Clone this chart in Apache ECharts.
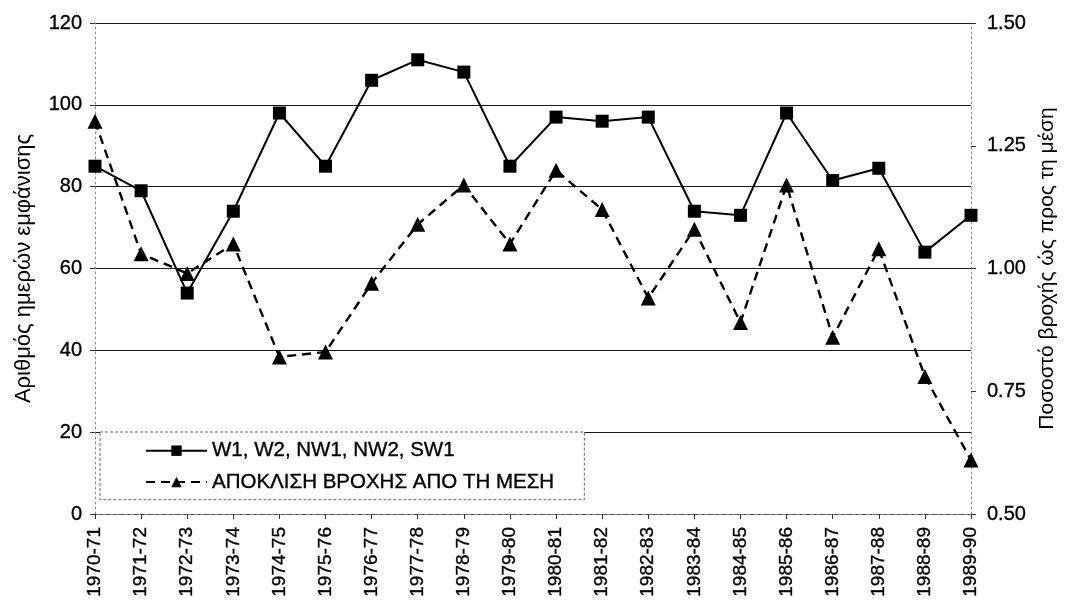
<!DOCTYPE html>
<html>
<head>
<meta charset="utf-8">
<title>Αριθμός ημερών εμφάνισης και απόκλιση βροχής</title>
<script src="https://cdn.jsdelivr.net/npm/echarts@6/dist/echarts.min.js"></script>
<style>
  html, body { margin: 0; padding: 0; background: #fff; }
  #chart { width: 1066px; height: 601px; }
</style>
</head>
<body>
<div id="chart"></div>
<script>
// Hydrological years
const years = [
  '1970-71', '1971-72', '1972-73', '1973-74', '1974-75', '1975-76', '1976-77',
  '1977-78', '1978-79', '1979-80', '1980-81', '1981-82', '1982-83', '1983-84',
  '1984-85', '1985-86', '1986-87', '1987-88', '1988-89', '1989-90'
];

// Days of occurrence of W1, W2, NW1, NW2, SW1 types (left axis)
const daysCount = [85, 79, 54, 74, 98, 85, 106, 111, 108, 85, 97, 96, 97, 74, 73, 98, 81.5, 84.5, 64, 73];

// Rainfall as a ratio of the mean (right axis)
const rainRatio = [1.30, 1.03, 0.99, 1.05, 0.82, 0.83, 0.97, 1.09, 1.17, 1.05, 1.20, 1.12, 0.94, 1.08, 0.89, 1.17, 0.86, 1.04, 0.78, 0.61];

const seriesNames = ['W1, W2, NW1, NW2, SW1', 'ΑΠΟΚΛΙΣΗ ΒΡΟΧΗΣ ΑΠΟ ΤΗ ΜΕΣΗ'];
const leftAxisName = 'Αριθμός ημερών εμφάνισης';
const rightAxisName = 'Ποσοστό βροχής ώς προς τη μέση';

const FONT = '"Liberation Sans", Arial, sans-serif';
const chart = echarts.init(document.getElementById('chart'), null, { renderer: 'canvas' });

// a faint outline makes the small print a little heavier
const heavy = { textBorderColor: '#000', textBorderWidth: 0.35 };

chart.setOption({
  backgroundColor: '#ffffff',
  animation: false,
  textStyle: { fontFamily: FONT, color: '#000' },
  grid: { left: 95, right: 91, top: 23, bottom: 87, containLabel: false },
  legend: {
    orient: 'vertical',
    left: 100,
    top: 432,
    padding: [8, 30, 7, 45],
    itemWidth: 61,
    itemHeight: 13,
    itemGap: 10,
    backgroundColor: '#fff',
    borderColor: '#666',
    borderWidth: 1,
    borderType: [3, 2],
    textStyle: Object.assign({ fontFamily: FONT, fontSize: 20.5, color: '#000' }, heavy),
    data: seriesNames
  },
  xAxis: {
    type: 'category',
    data: years,
    boundaryGap: false,
    axisLine: { show: true, lineStyle: { color: '#777', width: 1, type: [5, 2] } },
    axisTick: { show: true, alignWithLabel: true, length: 5, lineStyle: { color: '#333' } },
    axisLabel: Object.assign({
      rotate: 90,
      margin: 13,
      fontSize: 19,
      fontFamily: FONT,
      color: '#000',
      interval: 0
    }, heavy),
    splitLine: { show: false }
  },
  yAxis: [
    {
      type: 'value',
      min: 0,
      max: 120,
      interval: 20,
      name: leftAxisName,
      nameLocation: 'middle',
      nameGap: 60,
      nameTextStyle: { fontFamily: FONT, fontSize: 22, color: '#000' },
      axisLine: { show: true, lineStyle: { color: '#888', width: 1, type: [2, 3] } },
      axisTick: { show: true, length: 5, lineStyle: { color: '#333' } },
      axisLabel: Object.assign({ fontSize: 20, fontFamily: FONT, color: '#000', margin: 13 }, heavy),
      splitLine: { show: true, lineStyle: { color: '#1a1a1a', width: 1 } }
    },
    {
      type: 'value',
      min: 0.5,
      max: 1.5,
      interval: 0.25,
      position: 'right',
      name: rightAxisName,
      nameLocation: 'middle',
      nameGap: 60,
      nameRotate: 90,
      nameTextStyle: { fontFamily: FONT, fontSize: 21, color: '#000' },
      axisLine: { show: true, lineStyle: { color: '#888', width: 1, type: [2, 3] } },
      axisTick: { show: true, length: 5, lineStyle: { color: '#333' } },
      axisLabel: Object.assign({
        fontSize: 20, fontFamily: FONT, color: '#000', margin: 16,
        formatter: v => v.toFixed(2)
      }, heavy),
      splitLine: { show: false }
    }
  ],
  series: [
    {
      name: seriesNames[0],
      type: 'line',
      yAxisIndex: 0,
      data: daysCount,
      symbol: 'rect',
      symbolSize: 13,
      itemStyle: { color: '#000' },
      lineStyle: { color: '#000', width: 2, type: 'solid' },
      z: 3
    },
    {
      name: seriesNames[1],
      type: 'line',
      yAxisIndex: 1,
      data: rainRatio,
      symbol: 'triangle',
      symbolSize: 15,
      itemStyle: { color: '#000' },
      lineStyle: { color: '#000', width: 2.4, type: [9, 6] },
      z: 2
    }
  ]
});
</script>
</body>
</html>
